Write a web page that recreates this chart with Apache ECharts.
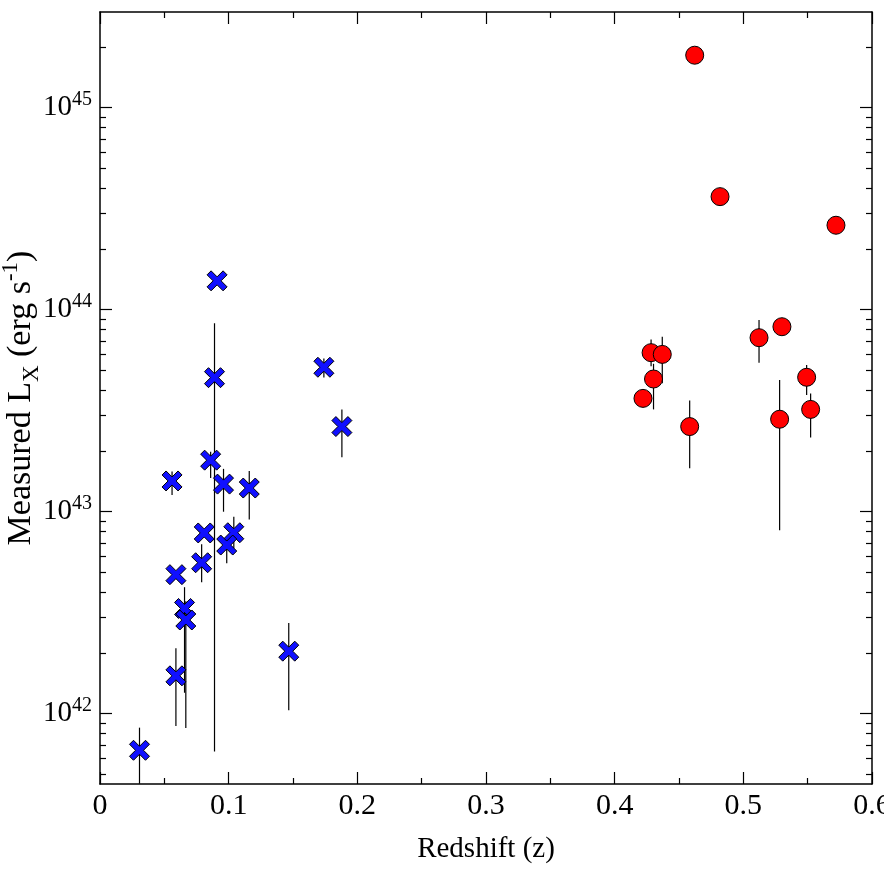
<!DOCTYPE html>
<html>
<head>
<meta charset="utf-8">
<script src="https://cdn.jsdelivr.net/npm/echarts@6/dist/echarts.min.js"></script>
<style>
  html, body { margin: 0; padding: 0; background: #fff; }
  #main { width: 884px; height: 886px; }
</style>
</head>
<body>
<div id="main"></div>
<script>
// low-z sample (blue crosses): redshift, L_X and error bar ends (erg/s)
const blueZ  = [0.091, 0.089, 0.174, 0.188, 0.086, 0.056, 0.096, 0.116, 0.081, 0.104, 0.0985, 0.079, 0.059, 0.0657, 0.0667, 0.059, 0.1467, 0.0307];
const blueL  = [1.39e44, 4.61e43, 5.19e43, 2.64e43, 1.80e43, 1.42e43, 1.37e43, 1.31e43, 7.85e42, 7.87e42, 6.84e42, 5.59e42, 4.88e42, 3.32e42, 2.91e42, 1.54e42, 2.04e42, 6.59e41];
const blueLo = [1.39e44, 6.5e41, 4.62e43, 1.86e43, 1.47e43, 1.21e43, 1.00e43, 9.16e42, 7.85e42, 6.6e42, 5.56e42, 4.47e42, 4.88e42, 1.27e42, 8.5e41, 8.7e41, 1.04e42, 4.5e41];
const blueHi = [1.39e44, 8.56e43, 5.74e43, 3.21e43, 1.98e43, 1.58e43, 1.63e43, 1.59e43, 7.85e42, 9.45e42, 7.5e42, 6.9e42, 4.88e42, 4.23e42, 3.6e42, 2.11e42, 2.81e42, 8.53e41];

// high-z sample (red circles)
const redZ  = [0.4622, 0.4819, 0.572, 0.4283, 0.437, 0.4302, 0.422, 0.4583, 0.5122, 0.530, 0.5492, 0.5282, 0.5523];
const redL  = [1.82e45, 3.63e44, 2.62e44, 6.13e43, 6.01e43, 4.54e43, 3.64e43, 2.64e43, 7.27e43, 8.24e43, 4.63e43, 2.87e43, 3.21e43];
const redLo = [1.82e45, 3.63e44, 2.62e44, 5.25e43, 4.32e43, 3.21e43, 3.64e43, 1.64e43, 5.47e43, 7.5e43, 3.78e43, 8.1e42, 2.33e43];
const redHi = [1.82e45, 3.63e44, 2.62e44, 7.13e43, 7.35e43, 5.4e43, 3.64e43, 3.55e43, 8.89e43, 9.0e43, 5.32e43, 4.49e43, 3.85e43];

const yDecades = [42, 43, 44, 45];
const xTicks = [0, 0.1, 0.2, 0.3, 0.4, 0.5, 0.6];

const yMin = 41.652, yMax = 45.474;
const FONT = 'Liberation Serif, Times New Roman, serif';

// log-minor tick positions (2..9 x 10^n)
const yMinor = [];
for (let n = 41; n <= 45; n++) {
  for (let k = 2; k <= 9; k++) {
    const v = n + Math.log10(k);
    if (v > yMin && v < yMax) yMinor.push(v);
  }
}

const lg = v => Math.log10(v);
const pts = (zs, ls) => zs.map((z, i) => [z, lg(ls[i])]);
const bars = (zs, lo, hi) => zs.map((z, i) => [z, lg(lo[i]), lg(hi[i])]);

const crossPath = 'path://M2,0 L5,3 L8,0 L10,2 L7,5 L10,8 L8,10 L5,7 L2,10 L0,8 L3,5 L0,2 Z';

function errRender(params, api) {
  const top = api.coord([api.value(0), api.value(2)]);
  const bot = api.coord([api.value(0), api.value(1)]);
  return {
    type: 'line',
    shape: { x1: top[0], y1: top[1], x2: bot[0], y2: bot[1] },
    style: { stroke: '#000', lineWidth: 1.2 }
  };
}

const lineStyle = { color: '#000', width: 1.5 };

function yAx(pos, ticks, len, showLine, labels) {
  const ax = {
    type: 'value', position: pos, min: yMin, max: yMax,
    axisLine: { show: showLine, onZero: false, lineStyle },
    axisTick: { show: true, inside: true, length: len, customValues: ticks, lineStyle: { color: '#000', width: 1.2 } },
    axisLabel: { show: false },
    splitLine: { show: false }
  };
  if (labels) {
    ax.axisLabel = {
      show: true, customValues: yDecades, margin: 8,
      formatter: v => '{b|10}{s|' + Math.round(v) + '}',
      rich: {
        b: { fontFamily: FONT, fontSize: 29, color: '#000', lineHeight: 36 },
        s: { fontFamily: FONT, fontSize: 20, color: '#000', lineHeight: 16, verticalAlign: 'top' }
      }
    };
    ax.name = '{t|Measured L}{sub|X}{t| (erg s}{sup|-1}{t|)}';
    ax.nameLocation = 'middle';
    ax.nameGap = 57;
    ax.nameMoveOverlap = false;
    ax.nameTextStyle = {
      rich: {
        t: { fontFamily: FONT, fontSize: 34, color: '#000', lineHeight: 44 },
        sub: { fontFamily: FONT, fontSize: 23, color: '#000', lineHeight: 28, verticalAlign: 'bottom' },
        sup: { fontFamily: FONT, fontSize: 23, color: '#000', lineHeight: 26, verticalAlign: 'top' }
      }
    };
  }
  return ax;
}

function xAx(pos, labels) {
  const ax = {
    type: 'value', position: pos, min: 0, max: 0.6, interval: 0.1,
    axisLine: { show: true, onZero: false, lineStyle },
    axisTick: { show: true, inside: true, length: 12, lineStyle: { color: '#000', width: 1.2 } },
    minorTick: { show: true, splitNumber: 2, length: 6, lineStyle: { color: '#000', width: 1.2 } },
    axisLabel: { show: false },
    splitLine: { show: false }
  };
  if (labels) {
    ax.axisLabel = {
      show: true, margin: 7, color: '#000', fontFamily: FONT, fontSize: 30,
      customValues: xTicks,
      formatter: v => String(Math.round(v * 10) / 10)
    };
    ax.name = 'Redshift (z)';
    ax.nameLocation = 'middle';
    ax.nameGap = 51;
    ax.nameMoveOverlap = false;
    ax.nameTextStyle = { fontFamily: FONT, fontSize: 29, color: '#000' };
  }
  return ax;
}

const chart = echarts.init(document.getElementById('main'), null, { renderer: 'canvas' });
chart.setOption({
  animation: false,
  backgroundColor: '#fff',
  grid: { left: 100, right: 12, top: 12, bottom: 102, containLabel: false, outerBoundsMode: 'none' },
  xAxis: [xAx('bottom', true), xAx('top', false)],
  yAxis: [
    yAx('left', yDecades, 12, true, true),
    yAx('left', yMinor, 6, false, false),
    yAx('right', yDecades, 12, true, false),
    yAx('right', yMinor, 6, false, false)
  ],
  series: [
    { type: 'custom', renderItem: errRender, data: bars(blueZ, blueLo, blueHi), z: 1, silent: true },
    { type: 'custom', renderItem: errRender, data: bars(redZ, redLo, redHi), z: 1, silent: true },
    {
      type: 'scatter', data: pts(blueZ, blueL), symbol: crossPath, symbolSize: 20, z: 3,
      itemStyle: { color: '#1010ff', borderColor: '#000', borderWidth: 1, opacity: 1 }
    },
    {
      type: 'scatter', data: pts(redZ, redL), symbol: 'circle', symbolSize: 18, z: 3,
      itemStyle: { color: '#ff0000', borderColor: '#000', borderWidth: 1, opacity: 1 }
    }
  ]
});
</script>
</body>
</html>
